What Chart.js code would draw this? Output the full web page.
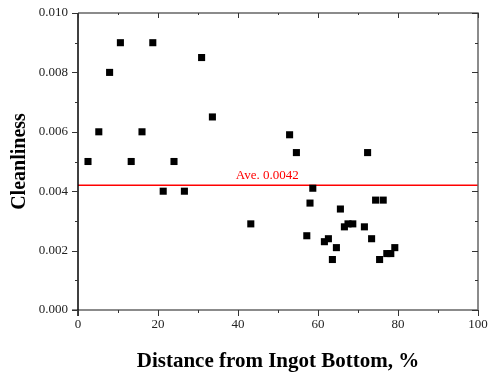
<!DOCTYPE html>
<html>
<head>
    <title>Cleanliness vs Distance</title>
    <script src="https://cdn.jsdelivr.net/npm/chart.js@4/dist/chart.umd.min.js"></script>
    <style>
        body { margin: 0; background: #fff; }
        #wrap { width: 489px; height: 374px; }
    </style>
</head>
<body>
<div id="wrap"><canvas id="chart"></canvas></div>
<script>
    // distance from ingot bottom (%) and cleanliness for each sample
    const distance = [2.5, 5.2, 7.9, 10.6, 13.3, 16.0, 18.7, 21.3, 24.0, 26.6, 30.9, 33.6,
        43.2, 52.9, 54.6, 57.2, 58.0, 58.7, 61.6, 62.6, 63.6, 64.6, 65.6, 66.6, 67.5, 68.7,
        71.6, 72.4, 73.4, 74.4, 75.4, 76.3, 77.2, 78.2, 79.2];
    const cleanliness = [0.0050, 0.0060, 0.0080, 0.0090, 0.0050, 0.0060, 0.0090, 0.0040, 0.0050, 0.0040, 0.0085, 0.0065,
        0.0029, 0.0059, 0.0053, 0.0025, 0.0036, 0.0041, 0.0023, 0.0024, 0.0017, 0.0021, 0.0034, 0.0028, 0.0029, 0.0029,
        0.0028, 0.0053, 0.0024, 0.0037, 0.0017, 0.0037, 0.0019, 0.0019, 0.0021];
    const average = 0.0042;
    const averageLabel = 'Ave. 0.0042';

    const serif = '"Liberation Serif", "Times New Roman", serif';

    // box frame with major/minor ticks (outward on bottom/left, inward on top/right)
    const framePlugin = {
        id: 'frame',
        afterDraw(chart) {
            const ctx = chart.ctx;
            const a = chart.chartArea;
            const xs = chart.scales.x, ys = chart.scales.y;
            ctx.save();
            ctx.lineWidth = 1.5;
            ctx.strokeStyle = '#666';
            ctx.beginPath();
            ctx.moveTo(a.left, a.top); ctx.lineTo(a.right, a.top); ctx.lineTo(a.right, a.bottom); ctx.lineTo(a.left - 6, a.bottom);
            ctx.stroke();
            ctx.strokeStyle = '#000';
            ctx.beginPath();
            ctx.moveTo(a.left, a.top); ctx.lineTo(a.left, a.bottom + 6);
            ctx.stroke();

            ctx.lineWidth = 1;
            ctx.beginPath();
            for (let v = 0; v <= 100; v += 10) {
                const px = Math.round(xs.getPixelForValue(v)) + 0.5;
                const len = v % 20 === 0 ? 6 : 3;
                ctx.moveTo(px, a.bottom); ctx.lineTo(px, a.bottom + len);
                ctx.moveTo(px, a.top); ctx.lineTo(px, a.top + len - 1);
            }
            for (let i = 0; i <= 10; i++) {
                const py = Math.round(ys.getPixelForValue(i * 0.001)) + 0.5;
                const len = i % 2 === 0 ? 6 : 3;
                ctx.moveTo(a.left, py); ctx.lineTo(a.left - len, py);
                ctx.moveTo(a.right, py); ctx.lineTo(a.right - len, py);
            }
            ctx.strokeStyle = '#333';
            ctx.stroke();

            // average label
            ctx.fillStyle = '#ff0000';
            ctx.font = '13px ' + serif;
            ctx.textAlign = 'center';
            ctx.textBaseline = 'bottom';
            ctx.fillText(averageLabel, xs.getPixelForValue(47.3), ys.getPixelForValue(average) - 3);
            ctx.restore();
        }
    };

    new Chart(document.getElementById('chart'), {
        type: 'scatter',
        data: {
            datasets: [
                {
                    data: distance.map((d, i) => ({x: d, y: cleanliness[i]})),
                    pointStyle: 'rect',
                    pointRadius: 5,
                    pointBorderWidth: 0,
                    backgroundColor: '#000',
                    borderColor: '#000',
                    order: 1
                },
                {
                    type: 'line',
                    data: [{x: 0, y: average}, {x: 100, y: average}],
                    borderColor: '#ff0000',
                    borderWidth: 1.5,
                    pointRadius: 0,
                    order: 2
                }
            ]
        },
        options: {
            responsive: true,
            maintainAspectRatio: false,
            animation: false,
            layout: { padding: { left: 0, right: 11, top: 13, bottom: 0 } },
            plugins: { legend: { display: false }, tooltip: { enabled: false } },
            scales: {
                x: {
                    min: 0, max: 100,
                    afterFit(s) { s.height = 64; },
                    ticks: { stepSize: 20, color: '#222', padding: 1, maxRotation: 0, font: { family: serif, size: 13 } },
                    grid: { display: true, color: 'rgba(0,0,0,0)', drawTicks: true, tickLength: 6 },
                    border: { display: false },
                    title: {
                        display: true, text: 'Distance from Ingot Bottom, %', color: '#000',
                        font: { family: serif, size: 21, weight: 'bold' },
                        padding: { top: 0, bottom: 0 }
                    }
                },
                y: {
                    min: 0, max: 0.010,
                    afterFit(s) { s.width = 78; },
                    ticks: {
                        stepSize: 0.002, color: '#222', padding: 4,
                        font: { family: serif, size: 13 },
                        callback: v => v.toFixed(3)
                    },
                    grid: { display: true, color: 'rgba(0,0,0,0)', drawTicks: true, tickLength: 6 },
                    border: { display: false },
                    title: {
                        display: true, text: 'Cleanliness', color: '#000',
                        font: { family: serif, size: 20, weight: 'bold' },
                        padding: { top: 8, bottom: 0 }
                    }
                }
            }
        },
        plugins: [framePlugin]
    });
</script>
</body>
</html>
